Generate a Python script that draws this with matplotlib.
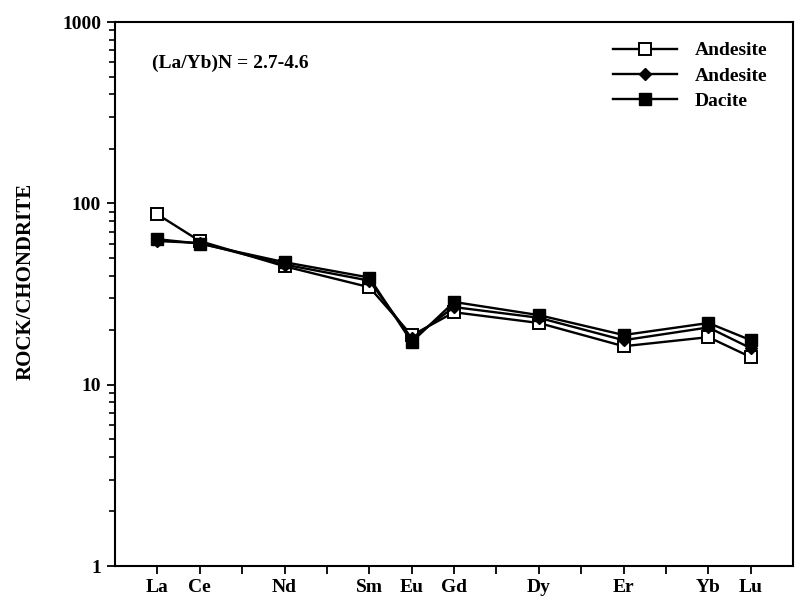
import matplotlib
matplotlib.use('Agg')
import matplotlib.pyplot as plt
from matplotlib.ticker import LogLocator, NullFormatter, FixedLocator

plt.rcParams['font.family'] = 'Liberation Serif'
plt.rcParams['font.weight'] = 'bold'

# atomic numbers for REE positions
elem_z = [57, 58, 60, 62, 63, 64, 66, 68, 70, 71]
elem_names = ['La', 'Ce', 'Nd', 'Sm', 'Eu', 'Gd', 'Dy', 'Er', 'Yb', 'Lu']

andesite1 = [87, 62, 45, 34.5, 18.7, 25.1, 21.9, 16.3, 18.3, 14.2]
andesite2 = [62, 60.5, 46, 37.5, 18.0, 26.8, 23.4, 17.6, 20.7, 15.9]
dacite = [63.5, 60, 47.4, 39, 17.2, 28.6, 24.2, 18.8, 21.9, 17.6]

fig = plt.figure(figsize=(7.95, 5.98), dpi=100)
ax = fig.add_axes([0.1447, 0.0535, 0.853, 0.9095])

ax.plot(elem_z, andesite1, color='black', lw=1.7, marker='s', ms=8.5,
        mfc='white', mec='black', mew=1.4, label='Andesite')
ax.plot(elem_z, andesite2, color='black', lw=1.7, marker='D', ms=6.5,
        mfc='black', mec='black', label='Andesite')
ax.plot(elem_z, dacite, color='black', lw=1.7, marker='s', ms=8.5,
        mfc='black', mec='black', label='Dacite')

ax.set_yscale('log')
ax.set_ylim(1, 1000)
ax.set_xlim(56, 72)

ax.yaxis.set_major_locator(LogLocator(base=10))
ax.yaxis.set_minor_locator(LogLocator(base=10, subs=range(2, 10)))
ax.yaxis.set_minor_formatter(NullFormatter())
ax.set_yticks([1, 10, 100, 1000])
ax.set_yticklabels(['1', '10', '100', '1000'])

ax.xaxis.set_major_locator(FixedLocator(list(range(57, 72))))
ax.set_xticklabels([elem_names[elem_z.index(z)] if z in elem_z else ''
                    for z in range(57, 72)])

ax.tick_params(axis='both', which='major', direction='out', length=6,
               width=1.3, labelsize=14)
ax.tick_params(axis='x', which='major', pad=3)
ax.tick_params(axis='y', which='major', pad=4)
ax.tick_params(axis='y', which='minor', direction='out', length=4, width=1.2)
for lab in ax.get_xticklabels() + ax.get_yticklabels():
    lab.set_fontweight('bold')

for sp in ax.spines.values():
    sp.set_linewidth(1.5)

ax.set_ylabel('ROCK/CHONDRITE', fontsize=15, fontweight='bold')
ax.yaxis.set_label_coords(-0.117, 0.524)

ax.text(0.0546, 0.9246, '(La/Yb)N = 2.7-4.6', transform=ax.transAxes,
        fontsize=14, fontweight='bold', va='center', ha='left')

ax.legend(loc='upper left', bbox_to_anchor=(0.7345, 0.964), frameon=False,
          borderaxespad=0, borderpad=0,
          handlelength=3.3, handletextpad=0.9, labelspacing=0.4,
          prop={'family': 'Liberation Serif', 'weight': 'bold', 'size': 14})

fig.savefig('out.png', dpi=100)
